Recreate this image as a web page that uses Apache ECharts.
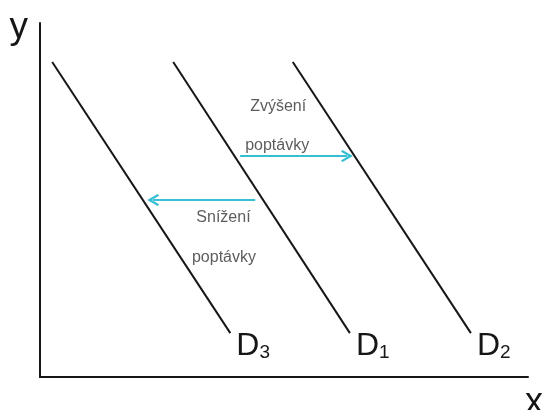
<!DOCTYPE html>
<html>
<head>
<meta charset="utf-8">
<script src="https://cdn.jsdelivr.net/npm/echarts@6/dist/echarts.min.js"></script>
<style>
  html, body { margin: 0; padding: 0; background: #fff; }
  #chart { width: 542px; height: 410px; }
</style>
</head>
<body>
<div id="chart"></div>
<script>
"use strict"

// demand curves: [start, end] in axis units (x 0..100, y 0..100)
const curveNames = ["3", "1", "2"]
const curveStarts = [[2.5, 89], [27.3, 89], [51.8, 89]]
const curveEnds = [[39, 12.4], [63.5, 12.4], [88.3, 12.4]]

// shift arrows
const arrowFrom = [[41.0, 62.4], [44.1, 50]]
const arrowTo = [[62.9, 62.4], [23.2, 50]]

// annotation texts
const noteTexts = ["Zvýšení", "poptávky", "Snížení", "poptávky"]
const notePos = [[48.8, 76.3], [48.6, 65.5], [37.6, 44.9], [37.7, 33.6]]

const ink = "#161616"
const cyan = "#35bfd3"
const chevron = "path://M0,10 L6,0 L12,10 L10.3,11.5 L6,4.4 L1.7,11.5 Z"

const chart = echarts.init(document.getElementById("chart"), null, { renderer: "canvas" })

const curveSeries = curveNames.map((n, i) => ({
  type: "line",
  symbol: "none",
  silent: true,
  lineStyle: { color: ink, width: 2 },
  data: [curveStarts[i], curveEnds[i]],
  endLabel: {
    show: true,
    offset: [-2, 13],
    formatter: "{d|D}{s|" + n + "}",
    rich: {
      d: { fontSize: 32, lineHeight: 32, color: ink, fontFamily: "Liberation Sans", verticalAlign: "bottom" },
      s: { fontSize: 19, lineHeight: 19, color: ink, fontFamily: "Liberation Sans", verticalAlign: "bottom", padding: [7, 0, 0, 0] },
    },
  },
}))

const option = {
  animation: false,
  backgroundColor: "#fff",
  grid: { left: 40, right: 14, top: 23, bottom: 33, outerBoundsMode: "none", containLabel: false },
  xAxis: {
    type: "value",
    min: 0,
    max: 100,
    name: "x",
    nameLocation: "end",
    nameGap: -3,
    nameTextStyle: { fontSize: 36, color: ink, fontFamily: "Liberation Sans", verticalAlign: "top", padding: [8, 0, 0, 0] },
    axisLine: { lineStyle: { color: ink, width: 2 } },
    axisTick: { show: false },
    axisLabel: { show: false },
    splitLine: { show: false },
  },
  yAxis: {
    type: "value",
    min: 0,
    max: 100,
    name: "y",
    nameLocation: "end",
    nameGap: -5,
    nameTextStyle: { fontSize: 37, color: ink, fontFamily: "Liberation Sans", align: "right", verticalAlign: "middle", padding: [0, 12, 0, 0] },
    axisLine: { show: true, lineStyle: { color: ink, width: 2 } },
    axisTick: { show: false },
    axisLabel: { show: false },
    splitLine: { show: false },
  },
  series: [
    ...curveSeries,
    {
      type: "lines",
      coordinateSystem: "cartesian2d",
      silent: true,
      symbol: ["none", chevron],
      symbolSize: [13, 12],
      lineStyle: { color: cyan, width: 2, opacity: 1 },
      data: arrowFrom.map((p, i) => ({ coords: [p, arrowTo[i]] })),
    },
    {
      type: "scatter",
      symbolSize: 0,
      silent: true,
      data: noteTexts.map((t, i) => ({ name: t, value: notePos[i] })),
      label: {
        show: true,
        position: "inside",
        formatter: "{b}",
        fontSize: 16,
        color: "#333",
        fontFamily: "Liberation Sans",
      },
    },
  ],
}

chart.setOption(option)
</script>
</body>
</html>
